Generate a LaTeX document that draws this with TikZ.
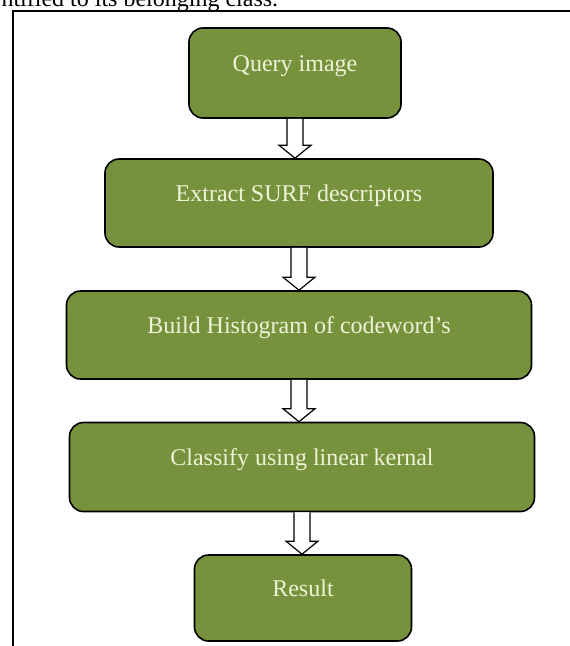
\documentclass[tikz,border=0pt]{standalone}
\usepackage{fontspec}
\setmainfont{Liberation Serif}
\usepackage{xcolor}
\usetikzlibrary{calc}
\definecolor{boxgreen}{RGB}{118,146,60}
\definecolor{boxtext}{RGB}{240,242,215}

\newcommand{\hollowarrow}[2]{%
\draw [hollow] ($(#1.south)+(-8,0)$) -- ($(#1.south |- #2.north)+(-8,-13)$) -- ($(#1.south |- #2.north)+(-16,-13)$) -- (#1.south |- #2.north) -- ($(#1.south |- #2.north)+(16,-13)$) -- ($(#1.south |- #2.north)+(8,-13)$) -- ($(#1.south)+(8,0)$);}

\begin{document}
\begin{tikzpicture}[x=1pt,y=-1pt]
\tikzset{stage/.style={draw=black, line width=1.6pt, fill=boxgreen, rounded corners=14pt, text=boxtext, font=\fontsize{24}{27}\selectfont, inner sep=0pt, text height=15pt, text depth=19pt}}
\tikzset{hollow/.style={draw=black, line width=1.2pt, fill=white}}
\useasboundingbox (0,0) rectangle (570,646);
\node [anchor=base west, font=\fontsize{24}{28}\selectfont] (caption) at (-2,6) {ntified to its belonging class.};
\draw [line width=1.6pt] (13,646) -- (13,11) -- (570,11);
\node [stage, minimum width=212pt, minimum height=90pt] (query) at (295,73) {Query image};
\node [stage, minimum width=388pt, minimum height=88pt] (surf) at (299,203) {Extract SURF descriptors};
\node [stage, minimum width=465pt, minimum height=88pt] (hist) at (299,335) {Build Histogram of codeword's};
\node [stage, minimum width=465pt, minimum height=89pt] (classify) at (302,467) {Classify using linear kernal};
\node [stage, minimum width=217pt, minimum height=86pt] (result) at (303,598) {Result};
\hollowarrow{query}{surf}
\hollowarrow{surf}{hist}
\hollowarrow{hist}{classify}
\hollowarrow{classify}{result}
\end{tikzpicture}
\end{document}
